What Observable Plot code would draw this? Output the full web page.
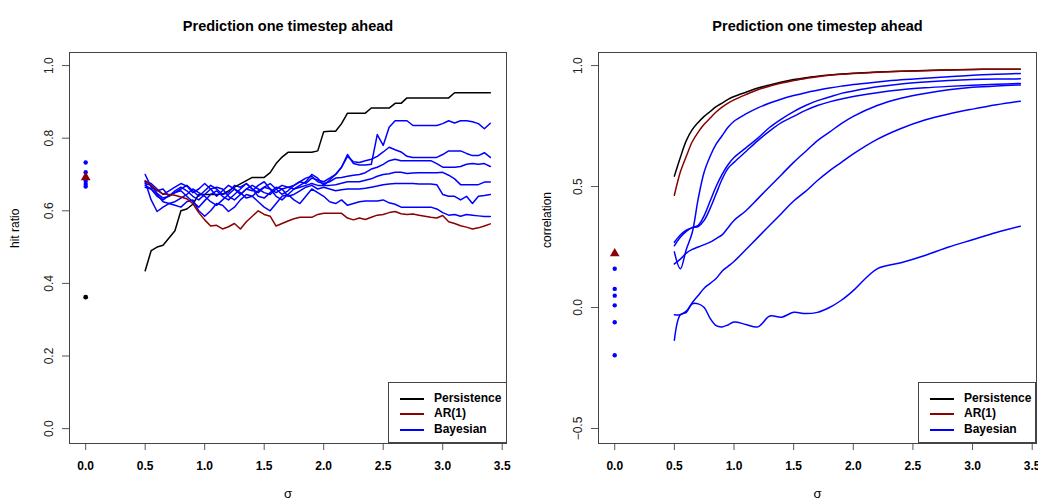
<!DOCTYPE html>
<html><head><meta charset="utf-8">
<script src="https://cdn.jsdelivr.net/npm/d3@7"></script>
<script src="https://cdn.jsdelivr.net/npm/@observablehq/plot@0.6"></script>
<style>
body{margin:0;background:#fff;}
#wrap{position:relative;width:1038px;height:499px;overflow:hidden;font-family:"Liberation Sans",Arial,sans-serif;background:#fff;}
.panel{position:absolute;top:0;width:519px;height:499px;}
.panel svg{max-width:none !important;overflow:visible;}
.legend{position:absolute;box-sizing:border-box;border:1px solid #444;background:#fff;}
.legend .sw{position:absolute;left:11px;width:24px;height:2px;}
.legend .lb{position:absolute;left:45px;font-weight:bold;font-size:12px;line-height:14px;color:#000;white-space:nowrap;}
</style></head>
<body><div id="wrap"></div>
<script>
// ---------- data ----------
const seriesNames = ["Persistence", "AR(1)", "Bayesian"];
const seriesColors = ["#000000", "#8B0000", "#0000FF"];
const xTicks = [0, 0.5, 1, 1.5, 2, 2.5, 3, 3.5];
const yTicksLeft = [0, 0.2, 0.4, 0.6, 0.8, 1.0];
const yTicksRight = [-0.5, 0, 0.5, 1.0];
const titleText = "Prediction one timestep ahead";
const xLabel = "σ";
const yLabelLeft = "hit ratio";
const yLabelRight = "correlation";

// left panel: hit ratio, sigma grid
const sigmaL = [0.5,0.55,0.6,0.65,0.7,0.75,0.8,0.85,0.9,0.95,
  1.0,1.05,1.1,1.15,1.2,1.25,1.3,1.35,1.4,1.45,
  1.5,1.55,1.6,1.65,1.7,1.75,1.8,1.85,1.9,1.95,
  2.0,2.05,2.1,2.15,2.2,2.25,2.3,2.35,2.4,2.45,
  2.5,2.55,2.6,2.65,2.7,2.75,2.8,2.85,2.9,2.95,
  3.0,3.05,3.1,3.15,3.2,3.25,3.3,3.35,3.4];
const hitPersistence = [0.435,0.49,0.50,0.505,0.525,0.545,0.60,0.605,0.618,0.645,
  0.645,0.645,0.645,0.646,0.655,0.665,0.674,0.683,0.692,0.692,
  0.692,0.705,0.73,0.748,0.761,0.761,0.761,0.761,0.761,0.765,
  0.818,0.819,0.819,0.84,0.869,0.869,0.869,0.869,0.883,0.883,
  0.883,0.883,0.896,0.896,0.911,0.911,0.911,0.911,0.911,0.911,
  0.911,0.911,0.925,0.925,0.925,0.925,0.925,0.925,0.925];
const hitAR = [0.683,0.67,0.656,0.646,0.645,0.643,0.638,0.633,0.62,0.595,
  0.575,0.558,0.56,0.55,0.556,0.565,0.55,0.57,0.585,0.60,
  0.59,0.585,0.558,0.565,0.572,0.578,0.582,0.582,0.582,0.59,
  0.593,0.593,0.593,0.593,0.58,0.575,0.58,0.576,0.582,0.588,
  0.59,0.595,0.598,0.592,0.59,0.591,0.588,0.585,0.582,0.58,
  0.587,0.57,0.565,0.559,0.555,0.55,0.553,0.558,0.564];
const hitBayes1 = [0.70,0.665,0.655,0.66,0.64,0.65,0.66,0.67,0.655,0.64,
  0.655,0.67,0.66,0.645,0.65,0.67,0.665,0.675,0.66,0.65,
  0.665,0.675,0.66,0.645,0.655,0.67,0.68,0.675,0.69,0.685,
  0.68,0.69,0.70,0.72,0.755,0.73,0.726,0.726,0.728,0.81,
  0.78,0.83,0.848,0.848,0.848,0.835,0.835,0.835,0.835,0.835,
  0.84,0.848,0.842,0.848,0.848,0.845,0.84,0.826,0.841];
const hitBayes2 = [0.68,0.675,0.66,0.645,0.655,0.665,0.675,0.668,0.65,0.66,
  0.675,0.66,0.64,0.655,0.67,0.66,0.645,0.66,0.67,0.66,
  0.65,0.645,0.66,0.67,0.665,0.66,0.67,0.68,0.70,0.69,
  0.67,0.685,0.70,0.72,0.75,0.735,0.733,0.738,0.742,0.75,
  0.762,0.775,0.768,0.762,0.75,0.747,0.747,0.747,0.747,0.747,
  0.755,0.765,0.765,0.765,0.758,0.752,0.752,0.76,0.747];
const hitBayes3 = [0.675,0.67,0.648,0.635,0.64,0.655,0.665,0.655,0.64,0.63,
  0.645,0.66,0.665,0.66,0.64,0.63,0.645,0.66,0.655,0.67,
  0.68,0.66,0.65,0.66,0.665,0.67,0.68,0.69,0.695,0.68,
  0.675,0.68,0.69,0.692,0.695,0.698,0.70,0.705,0.715,0.72,
  0.728,0.738,0.742,0.738,0.738,0.738,0.738,0.738,0.738,0.73,
  0.72,0.72,0.72,0.722,0.728,0.73,0.728,0.73,0.722];
const hitBayes4 = [0.67,0.66,0.645,0.625,0.62,0.625,0.635,0.645,0.66,0.65,
  0.64,0.625,0.615,0.63,0.645,0.66,0.65,0.635,0.64,0.655,
  0.665,0.66,0.64,0.63,0.645,0.66,0.665,0.67,0.675,0.67,
  0.67,0.67,0.672,0.676,0.68,0.68,0.68,0.684,0.688,0.695,
  0.70,0.702,0.706,0.706,0.703,0.704,0.705,0.705,0.705,0.705,
  0.706,0.698,0.688,0.672,0.672,0.672,0.672,0.679,0.679];
const hitBayes5 = [0.665,0.66,0.64,0.63,0.642,0.65,0.655,0.64,0.625,0.61,
  0.628,0.645,0.655,0.64,0.63,0.645,0.66,0.675,0.66,0.64,
  0.635,0.65,0.665,0.66,0.64,0.645,0.655,0.665,0.67,0.66,
  0.665,0.66,0.655,0.658,0.66,0.66,0.66,0.662,0.665,0.668,
  0.672,0.674,0.675,0.675,0.675,0.675,0.674,0.674,0.674,0.672,
  0.645,0.64,0.64,0.63,0.64,0.62,0.64,0.642,0.645];
const hitBayes6 = [0.68,0.63,0.598,0.61,0.62,0.615,0.61,0.625,0.63,0.60,
  0.585,0.60,0.62,0.615,0.598,0.61,0.63,0.645,0.64,0.625,
  0.61,0.60,0.62,0.64,0.645,0.63,0.62,0.64,0.66,0.65,
  0.64,0.625,0.62,0.63,0.615,0.62,0.625,0.627,0.627,0.627,
  0.63,0.622,0.618,0.61,0.61,0.61,0.61,0.61,0.61,0.605,
  0.595,0.588,0.59,0.585,0.59,0.588,0.586,0.584,0.584];
// values at sigma = 0 (left)
const hitZeroPersistence = [0.362];
const hitZeroAR = [0.692];
const hitZeroBayes = [0.733, 0.706, 0.692, 0.682, 0.674, 0.667];

// right panel: correlation
const sigmaR = [0.5,0.55,0.6,0.65,0.7,0.75,0.8,0.85,0.9,0.95,
  1.0,1.1,1.2,1.3,1.4,1.5,1.6,1.7,1.8,1.9,
  2.0,2.2,2.4,2.6,2.8,3.0,3.2,3.4];
const corPersistence = [0.543,0.62,0.69,0.735,0.765,0.79,0.81,0.83,0.845,0.86,
  0.872,0.89,0.907,0.92,0.932,0.942,0.95,0.956,0.961,0.965,
  0.968,0.973,0.977,0.98,0.982,0.984,0.985,0.985];
const corAR = [0.464,0.56,0.625,0.685,0.725,0.757,0.783,0.808,0.828,0.845,
  0.858,0.88,0.9,0.915,0.928,0.938,0.947,0.954,0.96,0.964,
  0.967,0.972,0.976,0.979,0.982,0.984,0.985,0.985];
const corBayes1 = [0.23,0.16,0.24,0.31,0.45,0.56,0.625,0.675,0.71,0.745,
  0.77,0.80,0.825,0.845,0.862,0.876,0.888,0.898,0.907,0.915,
  0.922,0.932,0.941,0.948,0.954,0.96,0.964,0.967];
const corBayes2 = [0.27,0.30,0.32,0.33,0.34,0.38,0.44,0.50,0.55,0.59,
  0.62,0.66,0.70,0.745,0.78,0.81,0.835,0.855,0.87,0.885,
  0.895,0.912,0.924,0.932,0.938,0.942,0.944,0.945];
const corBayes3 = [0.255,0.29,0.315,0.33,0.335,0.36,0.41,0.47,0.53,0.575,
  0.60,0.645,0.69,0.73,0.765,0.79,0.815,0.835,0.85,0.862,
  0.872,0.888,0.9,0.908,0.914,0.919,0.923,0.926];
const corBayes4 = [0.18,0.2,0.225,0.24,0.25,0.26,0.27,0.285,0.3,0.33,
  0.36,0.40,0.45,0.5,0.55,0.6,0.645,0.69,0.725,0.76,
  0.79,0.835,0.865,0.885,0.9,0.91,0.916,0.92];
const corBayes5 = [-0.03,-0.03,-0.015,0.02,0.05,0.08,0.10,0.12,0.15,0.17,
  0.19,0.24,0.29,0.34,0.39,0.44,0.48,0.525,0.565,0.60,
  0.635,0.695,0.74,0.775,0.80,0.82,0.838,0.853];
const corBayes6 = [-0.135,-0.03,-0.02,0.015,0.015,0.0,-0.045,-0.075,-0.08,-0.072,
  -0.06,-0.07,-0.08,-0.035,-0.04,-0.02,-0.025,-0.02,0.0,0.03,
  0.07,0.16,0.185,0.215,0.25,0.28,0.31,0.336];
const corZeroPersistence = [0.223];
const corZeroAR = [0.223];
const corZeroBayes = [0.16, 0.077, 0.049, 0.009, -0.061, -0.197];

// ---------- build tidy tables ----------
function tidy(xs, list) {
  const out = [];
  list.forEach(([name, vals, id]) => vals.forEach((v, i) => out.push({x: xs[i], y: v, series: name, id})));
  return out;
}
const leftLines = tidy(sigmaL, [
  ["Persistence", hitPersistence, "P"],
  ["Bayesian", hitBayes1, "B1"], ["Bayesian", hitBayes2, "B2"], ["Bayesian", hitBayes3, "B3"],
  ["Bayesian", hitBayes4, "B4"], ["Bayesian", hitBayes5, "B5"], ["Bayesian", hitBayes6, "B6"],
  ["AR(1)", hitAR, "A"]
]);
const rightLines = tidy(sigmaR, [
  ["Persistence", corPersistence, "P"],
  ["Bayesian", corBayes1, "B1"], ["Bayesian", corBayes2, "B2"], ["Bayesian", corBayes3, "B3"],
  ["Bayesian", corBayes4, "B4"], ["Bayesian", corBayes5, "B5"], ["Bayesian", corBayes6, "B6"],
  ["AR(1)", corAR, "A"]
]);
const zeroPts = (arr, name) => arr.map(v => ({x: 0, y: v, series: name}));

const font = '"Liberation Sans", Arial, sans-serif';
const colorScale = {domain: seriesNames, range: seriesColors};

function panel({lines, zP, zA, zB, yDomain, yTicks, ylab, ylabDx, marginLeft, marginRight, curve}) {
  return Plot.plot({
    width: 519, height: 499,
    marginLeft, marginRight, marginTop: 52, marginBottom: 56,
    style: {fontFamily: font, fontSize: "12px", background: "white", overflow: "visible"},
    x: {domain: [-0.136, 3.536]},
    y: {domain: yDomain},
    color: colorScale,
    marks: [
      Plot.axisX({ticks: xTicks, tickFormat: d3.format(".1f"), tickSize: 7, tickPadding: 11,
        label: null, stroke: "#555", fill: "#000", fontWeight: "bold", fontSize: 12}),
      Plot.axisY({ticks: yTicks, tickFormat: d3.format(".1f"), tickSize: 7, tickPadding: 10,
        tickRotate: -90, label: null, stroke: "#555", fill: "#222", fontSize: 12}),
      Plot.line(lines, {x: "x", y: "y", z: "id", stroke: "series", strokeWidth: 1.5, curve}),
      Plot.dot(zeroPts(zP, "Persistence"), {x: "x", y: "y", fill: "series", r: 2.4}),
      Plot.dot(zeroPts(zB, "Bayesian"), {x: "x", y: "y", fill: "series", r: 2.2}),
      Plot.dot(zeroPts(zA, "AR(1)"), {x: "x", y: "y", fill: "series", symbol: "triangle", r: 3.6}),
      Plot.frame({stroke: "#444"}),
      Plot.text([titleText], {text: d => d, frameAnchor: "top", dy: -32, fontWeight: "bold", fontSize: 14.5, fill: "#000"}),
      Plot.text([ylab], {text: d => d, frameAnchor: "left", dx: ylabDx, rotate: -90, fontSize: 12, fill: "#000"}),
      Plot.text([xLabel], {text: d => d, frameAnchor: "bottom", dy: 54, fontSize: 13, fill: "#000"})
    ]
  });
}

const wrap = document.getElementById("wrap");
function addPanel(svg, left) {
  const d = document.createElement("div");
  d.className = "panel";
  d.style.left = left + "px";
  d.appendChild(svg);
  wrap.appendChild(d);
}
addPanel(panel({lines: leftLines, zP: hitZeroPersistence, zA: hitZeroAR, zB: hitZeroBayes,
  yDomain: [-0.041, 1.036], yTicks: yTicksLeft, ylab: yLabelLeft, ylabDx: -54,
  marginLeft: 69, marginRight: 13, curve: "linear"}), 0);
addPanel(panel({lines: rightLines, zP: corZeroPersistence, zA: corZeroAR, zB: corZeroBayes,
  yDomain: [-0.562, 1.054], yTicks: yTicksRight, ylab: yLabelRight, ylabDx: -51,
  marginLeft: 79, marginRight: 2, curve: "catmull-rom"}), 519);

function addLegend(left, top, width) {
  const box = document.createElement("div");
  box.className = "legend";
  Object.assign(box.style, {left: left + "px", top: top + "px", width: width + "px", height: "61px"});
  const rows = [16, 31, 47];
  seriesNames.forEach((name, i) => {
    const sw = document.createElement("div");
    sw.className = "sw";
    sw.style.top = (rows[i] - 1) + "px";
    sw.style.background = seriesColors[i];
    const lb = document.createElement("div");
    lb.className = "lb";
    lb.style.top = (rows[i] - 8) + "px";
    lb.textContent = name;
    box.appendChild(sw); box.appendChild(lb);
  });
  wrap.appendChild(box);
}
addLegend(388, 382, 119);
addLegend(918, 382, 118);
</script>
</body></html>
